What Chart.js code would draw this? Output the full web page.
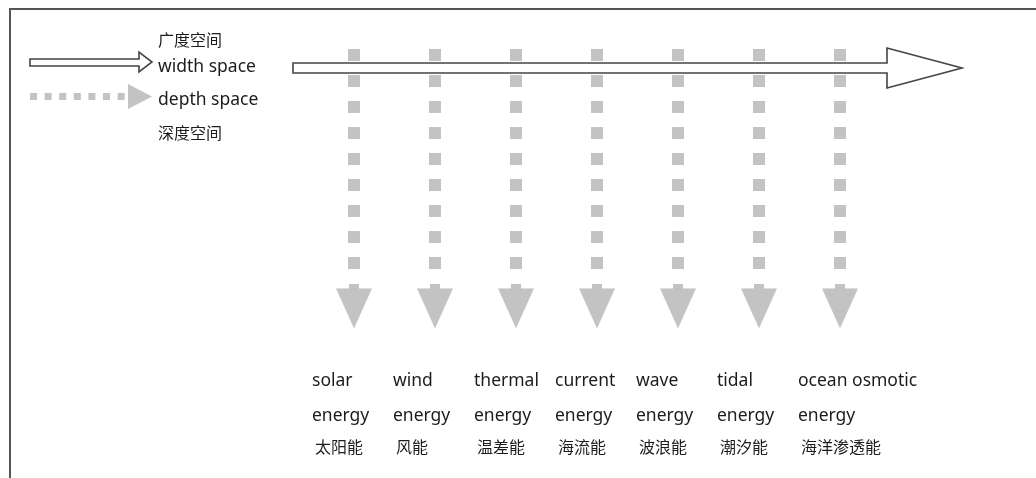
<!DOCTYPE html>
<html>
<head>
<meta charset="utf-8">
<script src="https://cdn.jsdelivr.net/npm/chart.js@4"></script>
<style>
  html, body { margin: 0; padding: 0; background: #ffffff; }
  #wrap { width: 1036px; height: 478px; position: relative; }
</style>
</head>
<body>
<div id="wrap"><canvas id="c"></canvas></div>
<script>
// ---- data ----
const energyLine1 = ['solar', 'wind', 'thermal', 'current', 'wave', 'tidal', 'ocean osmotic'];
const energyLine2 = ['energy', 'energy', 'energy', 'energy', 'energy', 'energy', 'energy'];
const energyZh = ['太阳能', '风能', '温差能', '海流能', '波浪能', '潮汐能', '海洋渗透能'];
const depthSteps = [0, 1, 2, 3, 4, 5, 6, 7, 8];   // dotted steps of each depth arrow
const arrowHeadStep = 9.67;                        // where each depth arrow ends
const legendWidthZh = '广度空间';
const legendWidthEn = 'width space';
const legendDepthEn = 'depth space';
const legendDepthZh = '深度空间';

// ---- styles ----
const GREY = '#c3c3c3';
const EN_FONT = '17.5px "Noto Sans", "Open Sans", sans-serif';
const ZH_FONT = '16px "Noto Sans CJK SC", sans-serif';
const TEXT = '#1c1c1c';

// arrow head image (stub + triangle) used as point style
function makeHead() {
  const cv = document.createElement('canvas');
  const w = 36, h = 44;
  cv.width = w; cv.height = h;
  const g = cv.getContext('2d');
  g.fillStyle = GREY;
  g.fillRect(w / 2 - 5, 0, 10, 5);
  g.beginPath();
  g.moveTo(0, 4);
  g.lineTo(w, 4);
  g.lineTo(w / 2, h);
  g.closePath();
  g.fill();
  return cv;
}

const dotData = [];
energyLine1.forEach((_, i) => depthSteps.forEach(s => dotData.push({ x: i, y: s })));
const headData = energyLine1.map((_, i) => ({ x: i, y: arrowHeadStep }));

const diagramPlugin = {
  id: 'diagram',
  afterDatasetsDraw(chart) {
    const ctx = chart.ctx;
    const xs = chart.scales.x;
    ctx.save();
    // frame (top and left)
    ctx.strokeStyle = '#555555';
    ctx.lineWidth = 2;
    ctx.beginPath();
    ctx.moveTo(1036, 9);
    ctx.lineTo(10, 9);
    ctx.lineTo(10, 478);
    ctx.stroke();

    // main width arrow
    ctx.fillStyle = '#ffffff';
    ctx.strokeStyle = '#444444';
    ctx.lineWidth = 1.6;
    ctx.beginPath();
    ctx.moveTo(293, 63);
    ctx.lineTo(887, 63);
    ctx.lineTo(887, 48);
    ctx.lineTo(962, 68);
    ctx.lineTo(887, 88);
    ctx.lineTo(887, 73);
    ctx.lineTo(293, 73);
    ctx.closePath();
    ctx.fill();
    ctx.stroke();

    // legend: width arrow
    ctx.beginPath();
    ctx.moveTo(30, 59);
    ctx.lineTo(139, 59);
    ctx.lineTo(139, 52);
    ctx.lineTo(152, 62);
    ctx.lineTo(139, 72);
    ctx.lineTo(139, 66);
    ctx.lineTo(30, 66);
    ctx.closePath();
    ctx.fill();
    ctx.stroke();

    // legend: depth dotted arrow
    ctx.fillStyle = GREY;
    for (let k = 0; k < 7; k++) {
      const cx = 33.5 + k * 14.6;
      ctx.fillRect(cx - 3.5, 93, 7, 7);
    }
    ctx.beginPath();
    ctx.moveTo(128, 84);
    ctx.lineTo(152, 96.5);
    ctx.lineTo(128, 109);
    ctx.closePath();
    ctx.fill();

    // legend texts
    ctx.fillStyle = TEXT;
    ctx.textAlign = 'left';
    ctx.textBaseline = 'middle';
    ctx.font = ZH_FONT;
    ctx.fillText(legendWidthZh, 158, 40);
    ctx.fillText(legendDepthZh, 158, 133);
    ctx.textBaseline = 'alphabetic';
    ctx.font = EN_FONT;
    ctx.fillText(legendWidthEn, 158, 72);
    ctx.fillText(legendDepthEn, 158, 105);

    // category labels under each depth arrow
    energyLine1.forEach((t, i) => {
      const px = xs.getPixelForValue(i);
      ctx.font = EN_FONT;
      ctx.textBaseline = 'alphabetic';
      ctx.fillText(t, px - 42, 386);
      ctx.fillText(energyLine2[i], px - 42, 421);
      ctx.font = ZH_FONT;
      ctx.textBaseline = 'middle';
      ctx.fillText(energyZh[i], px - 39, 447);
    });
    ctx.restore();
  }
};

const headImg = makeHead();

new Chart(document.getElementById('c'), {
  type: 'scatter',
  data: {
    datasets: [
      {
        label: 'depth',
        data: dotData,
        pointStyle: 'rect',
        pointRadius: 8.5,
        pointHoverRadius: 8.5,
        backgroundColor: GREY,
        borderWidth: 0,
        showLine: false
      },
      {
        label: 'heads',
        data: headData,
        pointStyle: headImg,
        pointRadius: 20,
        showLine: false
      }
    ]
  },
  options: {
    responsive: true,
    maintainAspectRatio: false,
    animation: false,
    events: [],
    layout: { padding: 0, autoPadding: false },
    plugins: { legend: { display: false }, tooltip: { enabled: false }, title: { display: false } },
    scales: {
      x: { type: 'linear', display: false, min: -354 / 81, max: -354 / 81 + 1036 / 81 },
      y: { type: 'linear', display: false, reverse: true, min: -55 / 26, max: -55 / 26 + 478 / 26 }
    }
  },
  plugins: [diagramPlugin]
});
</script>
</body>
</html>
